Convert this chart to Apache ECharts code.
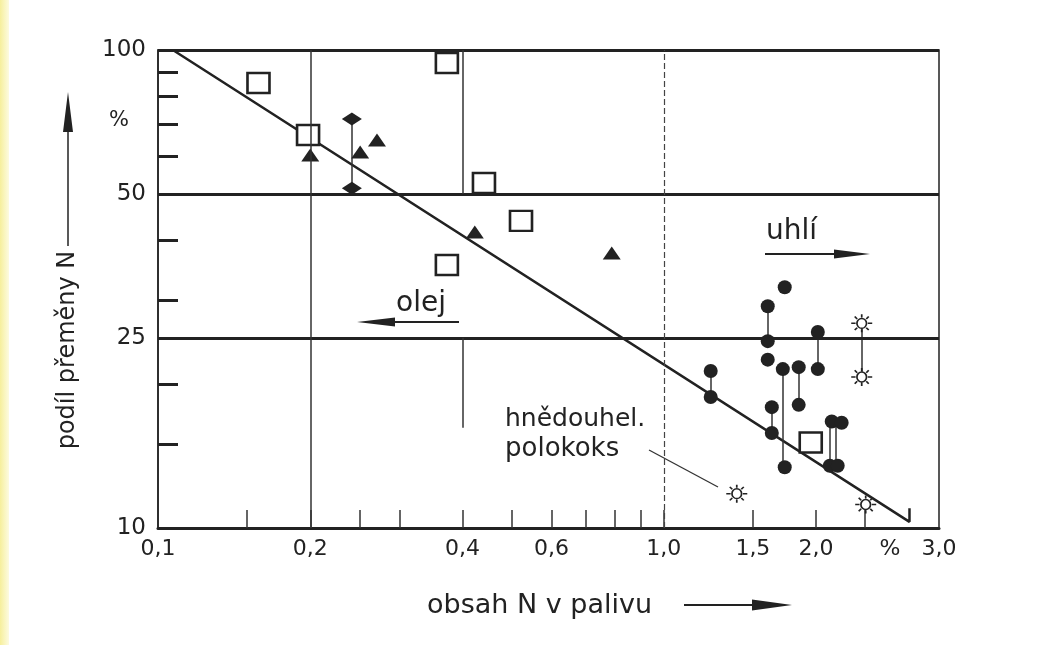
<!DOCTYPE html>
<html lang="cs">
<head>
<meta charset="UTF-8">
<title>podíl přeměny N</title>
<script src="https://cdn.jsdelivr.net/npm/echarts@6/dist/echarts.min.js"></script>
<style>
  html, body { margin: 0; padding: 0; background: #fff; }
  #main { width: 1064px; height: 645px; }
</style>
</head>
<body>
<div id="main"></div>
<script>
// osy (log), hodnoty
var xTickValues = [0.15, 0.2, 0.25, 0.3, 0.4, 0.5, 0.6, 0.7, 0.8, 0.9, 1.0, 1.5, 2.0, 2.5];
var xLabelValues = [0.1, 0.2, 0.4, 0.6, 1.0, 1.5, 2.0, 2.8, 3.5];
var xLabelTexts = ['0,1', '0,2', '0,4', '0,6', '1,0', '1,5', '2,0', '%', '3,0'];
var yTickValues = [15, 20, 30, 40, 60, 70, 80, 90];
var yLabelValues = [10, 25, 50, 100];

// proložená přímka
var fitLine = [[0.107, 100], [3.06, 10.3], [3.06, 11.0]];

// body
var squares = [[0.158, 85.3], [0.198, 66.4], [0.3725, 93.9], [0.441, 52.7], [0.522, 43.9], [0.3725, 35.5], [1.952, 15.1]];
var triangles = [[0.200, 60.3], [0.251, 61.2], [0.271, 64.8], [0.423, 41.6], [0.789, 37.6]];
var diamonds = [[0.2417, 71.7], [0.2417, 51.4]];
var coal = [
  [1.734, 31.9], [1.605, 29.1], [1.605, 24.6], [1.605, 22.5], [1.719, 21.5], [1.848, 21.7],
  [2.016, 25.7], [2.016, 21.5], [1.238, 21.3], [1.238, 18.8], [1.848, 18.1], [1.635, 17.9],
  [1.635, 15.8], [1.734, 13.4], [2.148, 16.7], [2.247, 16.6], [2.129, 13.5], [2.207, 13.5]
];
var lignite = [[2.462, 26.8], [2.462, 20.7], [1.394, 11.8], [2.507, 11.2]];

// svislé spojnice mezi body
var connectors = [
  [[0.2417, 71.7], [0.2417, 51.4]],
  [[1.605, 29.1], [1.605, 24.6]],
  [[1.238, 21.3], [1.238, 18.8]],
  [[2.016, 25.7], [2.016, 21.5]],
  [[1.848, 21.7], [1.848, 18.1]],
  [[1.635, 17.9], [1.635, 15.8]],
  [[1.72, 21.5], [1.72, 13.4]],
  [[2.13, 16.7], [2.13, 13.5]],
  [[2.19, 16.7], [2.19, 13.5]],
  [[2.462, 26.8], [2.462, 20.7]]
];

var ink = '#222';
var font = 'DejaVu Sans';
var sunPath = 'path://M17.5,10A5.5,5.5,0,1,1,6.5,10A5.5,5.5,0,1,1,17.5,10Z M12,0L12,3.5 M12,16.5L12,20 M0,10L5,10 M19,10L24,10 M4,2.5L6.8,5.2 M20,2.5L17.2,5.2 M4,17.5L6.8,14.8 M20,17.5L17.2,14.8';

function xLabel(v) {
  var best = 0, d = Infinity;
  for (var i = 0; i < xLabelValues.length; i++) {
    var dd = Math.abs(Math.log(v) - Math.log(xLabelValues[i]));
    if (dd < d) { d = dd; best = i; }
  }
  return xLabelTexts[best];
}

var myChart = echarts.init(document.getElementById('main'));

var option = {
  animation: false,
  backgroundColor: '#fff',
  grid: {
    left: 158, top: 50, right: 125, bottom: 117,
    show: true, borderColor: ink, borderWidth: 1.5, backgroundColor: 'transparent'
  },
  xAxis: {
    type: 'log', logBase: 10, min: 0.1, max: 3.5,
    axisLine: { show: true, lineStyle: { color: ink, width: 3 } },
    axisTick: { show: true, inside: true, length: 18, customValues: xTickValues, lineStyle: { color: '#333', width: 1.5 } },
    axisLabel: { customValues: xLabelValues, formatter: xLabel, fontSize: 22, fontFamily: font, color: ink, margin: 10 },
    splitLine: { show: false },
    minorTick: { show: false }
  },
  yAxis: {
    type: 'log', logBase: 10, min: 10, max: 100,
    axisLine: { show: true, lineStyle: { color: ink, width: 1.5 } },
    axisTick: { show: true, inside: true, length: 20, customValues: yTickValues, lineStyle: { color: ink, width: 3 } },
    axisLabel: { customValues: yLabelValues, fontSize: 23, fontFamily: font, color: ink, margin: 12 },
    splitLine: { show: false },
    minorTick: { show: false }
  },
  series: [
    {
      name: 'přímka',
      type: 'line',
      data: fitLine,
      symbol: 'none',
      lineStyle: { color: ink, width: 2.5 },
      z: 2,
      markLine: {
        silent: true,
        symbol: ['none', 'none'],
        label: { show: false },
        data: [
          { yAxis: 100, lineStyle: { color: ink, width: 3, type: 'solid' } },
          { yAxis: 50, lineStyle: { color: ink, width: 3, type: 'solid' } },
          { yAxis: 25, lineStyle: { color: ink, width: 3, type: 'solid' } },
          [{ coord: [0.2, 10], lineStyle: { color: '#333', width: 1.5, type: 'solid' } }, { coord: [0.2, 100] }],
          [{ coord: [0.4, 50], lineStyle: { color: '#333', width: 1.5, type: 'solid' } }, { coord: [0.4, 100] }],
          [{ coord: [0.4, 16.2], lineStyle: { color: '#333', width: 1.5, type: 'solid' } }, { coord: [0.4, 25] }],
          [{ coord: [1.0, 10], lineStyle: { color: '#444', width: 1.2, type: [6, 3] } }, { coord: [1.0, 100] }]
        ]
      }
    },
    {
      name: 'spojnice',
      type: 'lines',
      coordinateSystem: 'cartesian2d',
      polyline: false,
      silent: true,
      data: connectors.map(function (c) { return { coords: c }; }),
      lineStyle: { color: '#333', width: 1.5, opacity: 1 },
      z: 3
    },
    {
      name: 'olej',
      type: 'scatter',
      data: squares,
      symbol: 'rect',
      symbolSize: [22, 20],
      itemStyle: { color: '#fff', borderColor: ink, borderWidth: 2.5, opacity: 1 },
      z: 4
    },
    {
      name: 'trojúhelníky',
      type: 'scatter',
      data: triangles,
      symbol: 'triangle',
      symbolSize: [18, 13],
      itemStyle: { color: ink, opacity: 1 },
      z: 4
    },
    {
      name: 'kosočtverce',
      type: 'scatter',
      data: diamonds,
      symbol: 'diamond',
      symbolSize: [20, 13],
      itemStyle: { color: ink, opacity: 1 },
      z: 4
    },
    {
      name: 'uhlí',
      type: 'scatter',
      data: coal,
      symbol: 'circle',
      symbolSize: 14,
      itemStyle: { color: ink, opacity: 1 },
      z: 4
    },
    {
      name: 'hnědouhel. polokoks',
      type: 'scatter',
      data: lignite,
      symbol: sunPath,
      symbolSize: [21, 18],
      itemStyle: { color: '#fff', borderColor: ink, borderWidth: 1.6, opacity: 1 },
      z: 4
    }
  ],
  graphic: [
    {
      type: 'rect', left: 0, top: 0, z: -1,
      shape: { width: 9, height: 645 },
      style: { fill: new echarts.graphic.LinearGradient(0, 0, 1, 0, [{ offset: 0, color: '#f6ef9c' }, { offset: 1, color: '#fdfbe0' }]) }
    },
    // název osy y se šipkou
    {
      type: 'text', x: 68, y: 350, rotation: Math.PI / 2,
      style: { text: 'podíl přeměny N', fontSize: 24, fontFamily: font, fill: ink, align: 'center', verticalAlign: 'middle' }
    },
    { type: 'line', shape: { x1: 68, y1: 246, x2: 68, y2: 128 }, style: { stroke: ink, lineWidth: 1.5 } },
    { type: 'polygon', shape: { points: [[68, 92], [63, 132], [73, 132]] }, style: { fill: ink } },
    { type: 'text', x: 119, y: 121, style: { text: '%', fontSize: 21, fontFamily: font, fill: ink, align: 'center', verticalAlign: 'middle' } },
    // název osy x se šipkou
    {
      type: 'text', x: 427, y: 606,
      style: { text: 'obsah N v palivu', fontSize: 27, fontFamily: font, fill: ink, align: 'left', verticalAlign: 'middle' }
    },
    { type: 'line', shape: { x1: 684, y1: 605, x2: 760, y2: 605 }, style: { stroke: ink, lineWidth: 2 } },
    { type: 'polygon', shape: { points: [[792, 605], [752, 599.5], [752, 610.5]] }, style: { fill: ink } },
    // uhlí
    {
      type: 'text', x: 766, y: 232,
      style: { text: 'uhlí', fontSize: 28, fontFamily: font, fill: ink, align: 'left', verticalAlign: 'middle' }
    },
    { type: 'line', shape: { x1: 765, y1: 254, x2: 840, y2: 254 }, style: { stroke: ink, lineWidth: 2 } },
    { type: 'polygon', shape: { points: [[870, 254], [834, 249.5], [834, 258.5]] }, style: { fill: ink } },
    // olej
    {
      type: 'text', x: 396, y: 304,
      style: { text: 'olej', fontSize: 28, fontFamily: font, fill: ink, align: 'left', verticalAlign: 'middle' }
    },
    { type: 'line', shape: { x1: 390, y1: 322, x2: 459, y2: 322 }, style: { stroke: ink, lineWidth: 2 } },
    { type: 'polygon', shape: { points: [[357, 322], [395, 317.5], [395, 326.5]] }, style: { fill: ink } },
    // hnědouhel. polokoks
    {
      type: 'text', x: 505, y: 419,
      style: { text: 'hnědouhel.', fontSize: 25, fontFamily: font, fill: ink, align: 'left', verticalAlign: 'middle' }
    },
    {
      type: 'text', x: 505, y: 449,
      style: { text: 'polokoks', fontSize: 26, fontFamily: font, fill: ink, align: 'left', verticalAlign: 'middle' }
    },
    { type: 'line', shape: { x1: 649, y1: 450, x2: 718, y2: 487 }, style: { stroke: '#333', lineWidth: 1.3 } }
  ]
};

myChart.setOption(option);
</script>
</body>
</html>
